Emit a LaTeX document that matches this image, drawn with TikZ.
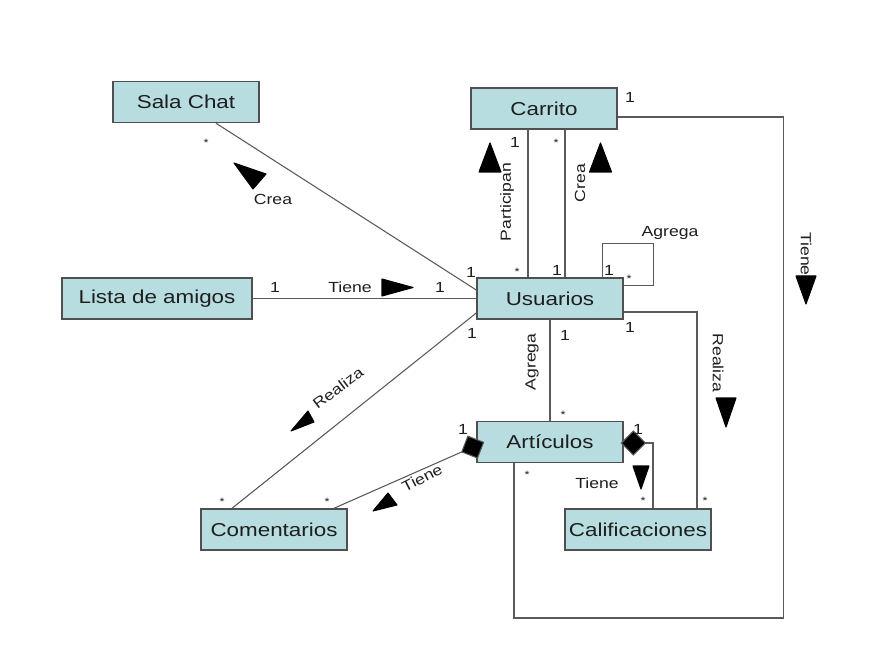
\documentclass[tikz,border=0pt]{standalone}
\usepackage{fontspec}
\setmainfont{Liberation Sans}[FakeStretch=1.2]
\usetikzlibrary{calc,arrows.meta}
\definecolor{boxfill}{RGB}{183,221,224}
\definecolor{boxline}{RGB}{80,80,80}
\definecolor{conn}{RGB}{90,90,90}
\definecolor{txt}{RGB}{30,30,30}
\tikzset{
  cls/.style={draw=boxline, line width=1.1pt, fill=boxfill, minimum height=30.75pt,
    minimum width=109.5pt, inner sep=0pt, font=\fontsize{14pt}{16pt}\selectfont, text=txt},
  wide/.style={minimum width=142.5pt},
  lnk/.style={draw=conn, line width=0.8pt},
  lbl/.style={font=\fontsize{11pt}{13pt}\selectfont, text=txt, inner sep=0pt},
  one/.style={font=\fontsize{11pt}{13pt}\selectfont, text=txt, inner sep=0pt},
  many/.style={font=\fontsize{8pt}{9pt}\selectfont, text=txt, inner sep=0pt},
  dir/.style={fill=black, draw=black, line width=0.8pt, line join=round},
  comp/.style={{Diamond[length=19pt,width=19pt,fill=black]}-},
}
\begin{document}
\begin{tikzpicture}[x=0.75pt,y=-0.75pt]
\useasboundingbox[fill=white] (0,0) rectangle (878,645);
% classes
\node[cls] (sala) at (186,102) {Sala Chat};
\node[cls] (car) at (544,108.5) {Carrito};
\node[cls] (usr) at (550,298.5) {Usuarios};
\node[cls,wide] (lista) at (157,298.5) {Lista de amigos};
\node[cls] (art) at (550,442) {Artículos};
\node[cls] (com) at (274,529.5) {Comentarios};
\node[cls] (cal) at (638,529.5) {Calificaciones};
% connectors
\draw[lnk] ($(sala.south)+(30,0)$) -- ($(usr.west)+(0,-8.5)$);
\draw[lnk] (lista.east) -- (usr.west);
\draw[lnk] ($(com.north)+(-42,0)$) -- ($(usr.west)+(0,14.5)$);
\coordinate (p1) at ($(usr.north)+(-22,0)$);
\coordinate (p2) at ($(usr.north)+(15,0)$);
\draw[lnk] (p1) -- (p1 |- car.south);
\draw[lnk] (p2) -- (p2 |- car.south);
\draw[lnk] ($(usr.north east)+(-21,0)$) -- ++(0,-34) -- ++(51,0) |- ($(usr.north east)+(0,8)$);
\draw[lnk] ($(car.east)+(0,8.5)$) -- ++(166,0) -- ++(0,501) -| ($(art.south)+(-36,0)$);
\draw[lnk] (usr.south) -- (art.north);
\draw[lnk] ($(usr.east)+(0,13.5)$) -| ($(cal.north)+(59,0)$);
\draw[lnk,comp] ($(art.east)+(-3,1)$) -| ($(cal.north)+(15,0)$);
\draw[lnk,comp] ($(art.west)+(8,0)$) -- ($(com.north)+(60,0)$);
% direction triangles
\fill[dir] (234,163) -- (266,174) -- (253,189) -- cycle;
\fill[dir] (382,279) -- (382,296) -- (413,287.5) -- cycle;
\fill[dir] (490,143) -- (479,172) -- (501,172) -- cycle;
\fill[dir] (600.5,143) -- (589.5,172) -- (611.5,172) -- cycle;
\fill[dir] (796,276) -- (816,276) -- (806,304) -- cycle;
\fill[dir] (716,398) -- (736,398) -- (726,427) -- cycle;
\fill[dir] (633,466) -- (649,466) -- (641,489) -- cycle;
\fill[dir] (291,431) -- (308,411) -- (314,422) -- cycle;
\fill[dir] (373,511) -- (388,493) -- (397,505) -- cycle;
% association labels
\node[lbl] (t1) at (273,199) {Crea};
\node[lbl] (t2) at (350,287) {Tiene};
\node[lbl,rotate=90] (t3) at (507,202) {Participan};
\node[lbl,rotate=90] (t4) at (580,183) {Crea};
\node[lbl] (t5) at (670,233) {Agrega};
\node[lbl,rotate=-90] (t6) at (806,254) {Tiene};
\node[lbl,rotate=-90] (t7) at (718,363) {Realiza};
\node[lbl,rotate=90] (t8) at (532,362) {Agrega};
\node[lbl,rotate=37] (t9) at (338,388) {Realiza};
\node[lbl,rotate=27] (t10) at (422,478) {Tiene};
\node[lbl] (t11) at (597,483) {Tiene};
% multiplicities
\node[many] (m1) at (206,143) {*};
\node[one] (m2) at (471,272) {1};
\node[one] (m3) at (275,287) {1};
\node[one] (m4) at (440,287) {1};
\node[one] (m5) at (472,333) {1};
\node[many] (m6) at (222,502) {*};
\node[many] (m7) at (327,502) {*};
\node[one] (m8) at (463,429) {1};
\node[one] (m9) at (515,142) {1};
\node[many] (m10) at (556,143) {*};
\node[many] (m11) at (517,272) {*};
\node[one] (m12) at (557,270) {1};
\node[one] (m13) at (609,270) {1};
\node[many] (m14) at (629,279) {*};
\node[one] (m15) at (630,97) {1};
\node[one] (m16) at (565,335) {1};
\node[one] (m17) at (630,327) {1};
\node[many] (m18) at (563,415) {*};
\node[one] (m19) at (638,429) {1};
\node[many] (m20) at (527,475) {*};
\node[many] (m21) at (643,501) {*};
\node[many] (m22) at (705,501) {*};
\end{tikzpicture}
\end{document}
